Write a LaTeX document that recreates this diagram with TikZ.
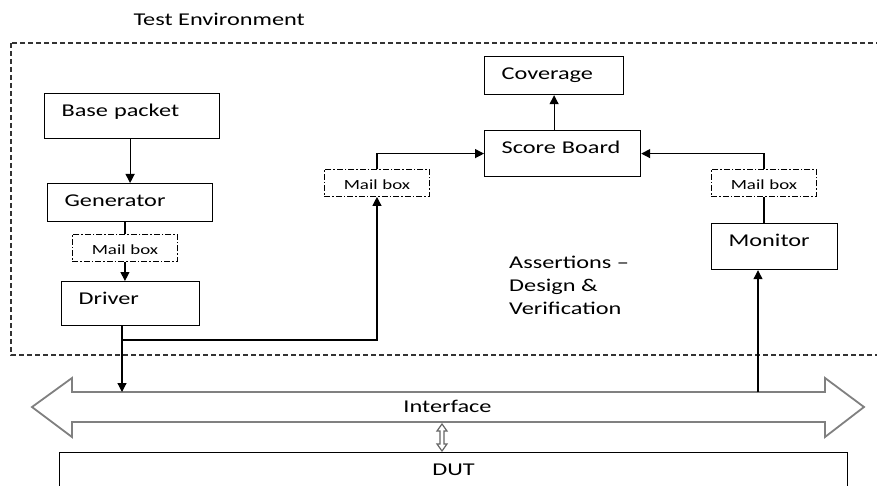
\documentclass[tikz,border=0pt]{standalone}
\usepackage{fontspec}
\setmainfont{Carlito}[FakeStretch=1.35]
\usetikzlibrary{arrows.meta}

\begin{document}
\begin{tikzpicture}[x=1pt,y=-1pt,font=\fontsize{18}{23}\selectfont,
    blk/.style={draw,line width=1.2pt,anchor=north west,align=left,inner xsep=17pt,inner ysep=0pt,text height=23pt},
    mbox/.style={draw,line width=0.9pt,dash pattern=on 6pt off 2pt on 1.5pt off 2pt,anchor=north west,align=center,inner sep=0pt,text width=105pt,text height=20pt,text depth=7pt,font=\fontsize{14}{16}\selectfont},
    link/.style={line width=1.2pt,-{Triangle[length=9pt,width=9pt]}},
    wire/.style={line width=1.2pt},
    iface/.style={draw=gray,line width=1.8pt,fill=white,line join=miter}]
    \clip (0,0) rectangle (877,486);
    \node[anchor=base west] (envlbl) at (130,26) {Test Environment};
    \draw[line width=1.1pt,dash pattern=on 5pt off 3pt,draw=black!80] (11,43) rectangle (890,355);
    \draw[iface] (32,407) -- (72,378) -- (72,392) -- (825,392) -- (825,378) -- (864,407) -- (825,437) -- (825,422) -- (72,422) -- (72,437) -- cycle;
    \node[anchor=base] (ifc) at (447.5,412) {Interface};
    \draw[iface,draw=black!60,line width=1.2pt] (442,424) -- (447,431) -- (444,431) -- (444,444) -- (447,444) -- (442,451) -- (437,444) -- (440,444) -- (440,431) -- (437,431) -- cycle;
    \node[draw,line width=1.2pt,anchor=north west,align=center,inner sep=0pt,text width=788pt,text height=23pt,text depth=60pt] (dut) at (59,452) {DUT};

    \node[blk,text width=141pt,text depth=22pt] (base) at (44,93) {Base packet};
    \node[blk,text width=131pt,text depth=15pt] (gen) at (47,183) {Generator};
    \node[mbox] (mbgen) at (72,234) {Mail box};
    \node[blk,text width=104pt,text depth=21pt] (drv) at (61,281) {Driver};
    \node[mbox] (mbdrv) at (324,169) {Mail box};
    \node[blk,text width=122pt,text depth=23pt] (score) at (484,130) {Score Board};
    \node[blk,text width=105pt,text depth=15pt] (cov) at (484,56) {Coverage};
    \node[mbox] (mbmon) at (711,169) {Mail box};
    \node[blk,text width=92pt,text depth=23pt] (mon) at (711,223) {Monitor};
    \node[anchor=north west,align=left,inner sep=0pt] (assert) at (509,256) {Assertions –\\Design \&\\Verification};

    \coordinate (tapl) at (122,392);
    \coordinate (split) at (122,340);
    \coordinate (tapr) at (758,392);

    \draw[link] (gen.north |- base.south) -- (gen.north);
    \draw[wire] (mbgen.north |- gen.south) -- (mbgen.north);
    \draw[link] (mbgen.south) -- (mbgen.south |- drv.north);
    \draw[link] (drv.south -| tapl) -- (tapl);
    \draw[link] (split) -| (mbdrv.south);
    \draw[link] (mbdrv.north) |- (score.west);
    \draw[link] (score.north -| cov.south) -- (cov.south);
    \draw[link] (mbmon.north) |- (score.east);
    \draw[wire] (mon.north -| mbmon.south) -- (mbmon.south);
    \draw[link] (tapr) -- (tapr |- mon.south);
\end{tikzpicture}
\end{document}
